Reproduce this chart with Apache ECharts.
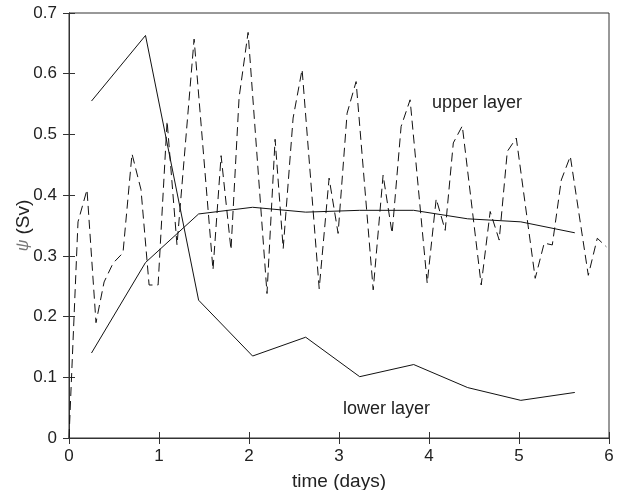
<!DOCTYPE html>
<html>
<head>
<meta charset="utf-8">
<script src="https://cdn.jsdelivr.net/npm/echarts@6/dist/echarts.min.js"></script>
<style>
  html, body { margin: 0; padding: 0; background: #fff; }
  #chart { width: 626px; height: 490px; }
</style>
</head>
<body>
<div id="chart"></div>
<script>
// transport time series
const layerTimes = [0.25, 0.85, 1.44, 2.04, 2.63, 3.23, 3.83, 4.43, 5.02, 5.62];
const lowerLayerPsi = [0.555, 0.663, 0.227, 0.135, 0.166, 0.101, 0.121, 0.083, 0.062, 0.075];
const upperLayerPsi = [0.140, 0.289, 0.369, 0.380, 0.372, 0.375, 0.375, 0.361, 0.356, 0.338];

const dashedTimes = [0, 0.10, 0.20, 0.30, 0.39, 0.49, 0.60, 0.70, 0.80, 0.89, 0.99,
  1.09, 1.20, 1.39, 1.60, 1.69, 1.80, 1.89, 1.99, 2.20, 2.29, 2.38, 2.49, 2.59,
  2.78, 2.89, 2.99, 3.09, 3.19, 3.38, 3.49, 3.59, 3.69, 3.79, 3.98, 4.08, 4.18,
  4.27, 4.37, 4.58, 4.68, 4.78, 4.87, 4.97, 5.18, 5.28, 5.37, 5.47, 5.57, 5.77,
  5.87, 5.97];
const dashedPsi = [0, 0.356, 0.409, 0.190, 0.257, 0.288, 0.305, 0.468, 0.409, 0.252, 0.252,
  0.522, 0.318, 0.657, 0.277, 0.465, 0.310, 0.561, 0.668, 0.238, 0.492, 0.312, 0.527, 0.607,
  0.246, 0.428, 0.337, 0.535, 0.587, 0.244, 0.433, 0.337, 0.513, 0.557, 0.255, 0.394, 0.342,
  0.486, 0.514, 0.252, 0.373, 0.326, 0.472, 0.494, 0.263, 0.321, 0.318, 0.425, 0.464, 0.268,
  0.329, 0.315];

const xTicks = [0, 1, 2, 3, 4, 5, 6];
const yTicks = [0, 0.1, 0.2, 0.3, 0.4, 0.5, 0.6, 0.7];

function pairs(xs, ys) {
  return xs.map(function (x, i) { return [x, ys[i]]; });
}

const FONT = 'Liberation Sans, Arial, sans-serif';
const ink = '#222';

const chart = echarts.init(document.getElementById('chart'), null, { renderer: 'canvas' });

const tickStyle = { show: true, inside: true, length: 6, lineStyle: { color: '#333', width: 1 } };

chart.setOption({
  animation: false,
  backgroundColor: '#fff',
  grid: {
    left: 69, right: 17, top: 13, bottom: 52,
    containLabel: false, outerBoundsMode: 'none',
    show: true, borderColor: '#333', borderWidth: 1
  },
  xAxis: [{
    type: 'value',
    min: xTicks[0], max: xTicks[xTicks.length - 1], interval: 1,
    name: 'time (days)', nameLocation: 'middle', nameGap: 34,
    nameTextStyle: { fontFamily: FONT, fontSize: 19, color: ink },
    axisLine: { show: true, lineStyle: { color: '#333' } },
    axisTick: tickStyle,
    axisLabel: { fontFamily: FONT, fontSize: 17, color: ink, margin: 10 },
    splitLine: { show: false }
  }, {
    type: 'value', position: 'top',
    min: xTicks[0], max: xTicks[xTicks.length - 1], interval: 1,
    axisLine: { show: true, lineStyle: { color: '#333' } },
    axisTick: tickStyle, axisLabel: { show: false }, splitLine: { show: false }
  }],
  yAxis: [{
    type: 'value',
    min: yTicks[0], max: yTicks[yTicks.length - 1], interval: 0.1,
    name: '{psi|ψ} (Sv)', nameLocation: 'middle', nameGap: 36, nameMoveOverlap: false,
    nameTextStyle: {
      fontFamily: FONT, fontSize: 19, color: ink,
      rich: { psi: { fontFamily: FONT, fontStyle: 'italic', fontSize: 16, color: '#777' } }
    },
    axisLine: { show: true, lineStyle: { color: '#333' } },
    axisTick: tickStyle,
    axisLabel: {
      fontFamily: FONT, fontSize: 17, color: ink, margin: 12,
      formatter: function (v) { return v === 0 ? '0' : v.toFixed(1); }
    },
    splitLine: { show: false }
  }, {
    type: 'value', position: 'right',
    min: yTicks[0], max: yTicks[yTicks.length - 1], interval: 0.1,
    axisLine: { show: true, lineStyle: { color: '#333' } },
    axisTick: tickStyle, axisLabel: { show: false }, splitLine: { show: false }
  }],
  series: [{
    name: 'lower layer', type: 'line', symbol: 'none',
    data: pairs(layerTimes, lowerLayerPsi),
    lineStyle: { color: '#111', width: 1 }
  }, {
    name: 'upper layer mean', type: 'line', symbol: 'none',
    data: pairs(layerTimes, upperLayerPsi),
    lineStyle: { color: '#111', width: 1 }
  }, {
    name: 'upper layer', type: 'line', symbol: 'none',
    data: pairs(dashedTimes, dashedPsi),
    lineStyle: { color: '#111', width: 1, type: [9, 5] }
  }],
  graphic: [{
    type: 'text', left: 432, top: 94,
    style: { text: 'upper layer', fontFamily: FONT, fontSize: 18, fill: ink }
  }, {
    type: 'text', left: 343, top: 400,
    style: { text: 'lower layer', fontFamily: FONT, fontSize: 18, fill: ink }
  }]
});
</script>
</body>
</html>
